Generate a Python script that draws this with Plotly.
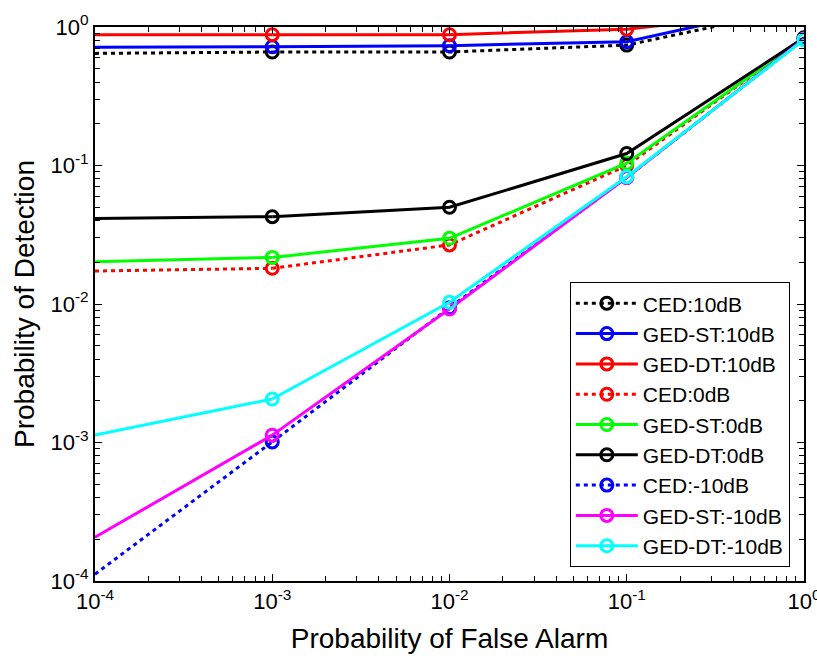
import plotly.graph_objects as go

# ---- data ----
pfa = [1e-4, 1e-3, 1e-2, 1e-1, 1.0]

ced_10db = [0.645, 0.66, 0.66, 0.74, 1.38]
ged_st_10db = [0.714, 0.72, 0.733, 0.783, 1.50]
ged_dt_10db = [0.88, 0.88, 0.88, 0.965, 1.33]

ced_0db = [0.0173, 0.0181, 0.0267, 0.100, 0.83]
ged_st_0db = [0.0202, 0.0217, 0.0298, 0.104, 0.83]
ged_dt_0db = [0.0415, 0.0427, 0.0499, 0.122, 0.835]

ced_m10db = [0.000112, 0.00101, 0.0094, 0.082, 0.82]
ged_st_m10db = [0.000207, 0.00113, 0.0092, 0.082, 0.82]
ged_dt_m10db = [0.00113, 0.00206, 0.0103, 0.083, 0.81]

series_names = ["CED:10dB", "GED-ST:10dB", "GED-DT:10dB",
                "CED:0dB", "GED-ST:0dB", "GED-DT:0dB",
                "CED:-10dB", "GED-ST:-10dB", "GED-DT:-10dB"]
series_values = [ced_10db, ged_st_10db, ged_dt_10db,
                 ced_0db, ged_st_0db, ged_dt_0db,
                 ced_m10db, ged_st_m10db, ged_dt_m10db]
series_colors = ["#000000", "#0000FF", "#FF0000",
                 "#FF0000", "#00FF00", "#000000",
                 "#0000FF", "#FF00FF", "#00FFFF"]
series_dotted = [True, False, False, True, False, False, True, False, False]

tick_vals = [1e-4, 1e-3, 1e-2, 1e-1, 1.0]
tick_text = ["10<sup>-4</sup>", "10<sup>-3</sup>", "10<sup>-2</sup>",
             "10<sup>-1</sup>", "10<sup>0</sup>"]

FONT = "Liberation Sans, Arial, Helvetica, sans-serif"

fig = go.Figure()
for name, vals, col, dotted in zip(series_names, series_values,
                                   series_colors, series_dotted):
    dash = "4px,4px" if dotted else "solid"
    # lead-in segment (no marker at the first abscissa)
    fig.add_trace(go.Scatter(
        x=pfa[:2], y=vals[:2], mode="lines", showlegend=False,
        legendgroup=name, hoverinfo="skip",
        line=dict(color=col, width=3, dash=dash)))
    # main part with open circle markers
    fig.add_trace(go.Scatter(
        x=pfa[1:], y=vals[1:], mode="lines+markers", name=name,
        legendgroup=name,
        line=dict(color=col, width=3, dash=dash),
        marker=dict(symbol="circle-open", size=12, color=col,
                    line=dict(width=3, color=col))))

axis_common = dict(
    type="log", range=[-4, 0], automargin=False,
    tickmode="array", tickvals=tick_vals, ticktext=tick_text,
    ticks="inside", ticklen=7, tickwidth=1, tickcolor="black",
    showline=True, linecolor="black", linewidth=2, mirror="allticks",
    showgrid=False, zeroline=False,
    minor=dict(ticks="inside", ticklen=5, tickcolor="black",
               tickwidth=1, dtick="D1", showgrid=False),
    tickfont=dict(family=FONT, size=22, color="black"),
    ticklabeloverflow="allow",
)

fig.update_layout(
    width=817, height=656,
    margin=dict(l=95, r=13, t=27, b=75),
    paper_bgcolor="white", plot_bgcolor="white",
    font=dict(family=FONT, color="black"),
    xaxis=dict(**axis_common,
               title=dict(text="Probability of False Alarm",
                          font=dict(family=FONT, size=28), standoff=15)),
    yaxis=dict(**axis_common,
               title=dict(text="Probability of Detection",
                          font=dict(family=FONT, size=28), standoff=8)),
    legend=dict(x=0.98, xanchor="right", y=0.025, yanchor="bottom",
                bgcolor="white", bordercolor="black", borderwidth=1,
                font=dict(family=FONT, size=21, color="black"),
                itemwidth=62, tracegroupgap=0),
    showlegend=True,
)

fig.write_html("out.html")
